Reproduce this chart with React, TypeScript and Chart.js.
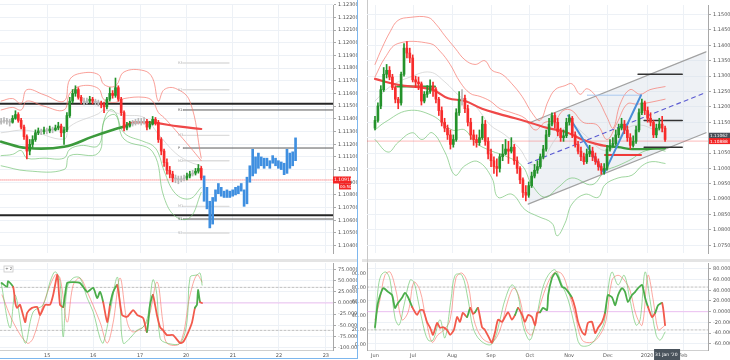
import React, { useEffect, useRef } from "react";
import { Chart, registerables } from "chart.js";
Chart.register(...registerables);

const FONT = "DejaVu Sans";
const GREEN = "#24922b";
const RED = "#f72c2c";
const GRAY = "#b8b8b8";
const GRID = "#edf1f6";
const BLUE_BAR = "#3f8fe0";
const BAND_RED = "rgba(246,120,110,0.7)";
const BAND_GREEN = "rgba(120,196,120,0.7)";
const BAND_MID = "rgba(205,205,205,0.7)";
const MA_GREEN = "#3b9a3b";
const MA_RED = "#ef4848";
const OSC_GREEN = "#4aad4a";
const OSC_RED = "#f25a4c";

type P = [number, number];

// ================= LEFT PANEL (hourly) =================
const leftDayLabels = ["15", "16", "17", "20", "21", "22", "23"];
const leftDayPos = [16.1, 32.2, 48.6, 64.7, 81.1, 97.2, 113.6];
const leftPriceTicks = [1.104, 1.105, 1.106, 1.107, 1.108, 1.109, 1.11, 1.111, 1.112, 1.113, 1.114, 1.115, 1.116, 1.117, 1.118, 1.119, 1.12, 1.121, 1.122, 1.123];
const leftOscTicks = [75, 50, 25, 0, -25, -50, -75, -100];

const leftOpen = [
  1.11373, 1.11381, 1.11388, 1.11381, 1.11373, 1.11404, 1.11434, 1.11388, 1.11335, 1.1126,
  1.11146, 1.11199, 1.11237, 1.1129, 1.11305, 1.11298, 1.11313, 1.11305, 1.1132, 1.11313,
  1.11328, 1.11343, 1.1129, 1.11313, 1.11426, 1.1154, 1.11601, 1.11631, 1.1157, 1.1154,
  1.11532, 1.1154, 1.11555, 1.1154, 1.11532, 1.11525, 1.1151, 1.11495, 1.11555, 1.11601,
  1.11585, 1.11646, 1.11555, 1.11449, 1.11328, 1.11343, 1.11358, 1.11366, 1.11373, 1.11381,
  1.11373, 1.11381, 1.11335, 1.11358, 1.11396, 1.11373, 1.11237, 1.11146, 1.11055, 1.10994,
  1.10964, 1.10934, 1.10926, 1.10919, 1.10926, 1.10934, 1.10949, 1.10964, 1.10972, 1.10987,
  1.11009,
];
const leftClose = [
  1.11381, 1.11388, 1.11381, 1.11373, 1.11404, 1.11434, 1.11388, 1.11335, 1.1126, 1.11146,
  1.11199, 1.11237, 1.1129, 1.11305, 1.11298, 1.11313, 1.11305, 1.1132, 1.11313, 1.11328,
  1.11343, 1.1129, 1.11313, 1.11426, 1.1154, 1.11601, 1.11631, 1.1157, 1.1154, 1.11532,
  1.1154, 1.11555, 1.1154, 1.11532, 1.11525, 1.1151, 1.11495, 1.11555, 1.11601, 1.11585,
  1.11646, 1.11555, 1.11449, 1.11328, 1.11343, 1.11358, 1.11366, 1.11373, 1.11381, 1.11373,
  1.11381, 1.11335, 1.11358, 1.11396, 1.11373, 1.11237, 1.11146, 1.11055, 1.10994, 1.10964,
  1.10934, 1.10926, 1.10919, 1.10926, 1.10934, 1.10949, 1.10964, 1.10972, 1.10987, 1.11009,
  1.10934,
];
const leftHigh = [
  1.11404, 1.11411, 1.11404, 1.11396, 1.11426, 1.11464, 1.11449, 1.11404, 1.11351, 1.11275,
  1.11237, 1.11267, 1.11313, 1.11328, 1.1132, 1.11335, 1.11328, 1.11343, 1.11335, 1.11351,
  1.11373, 1.11358, 1.11335, 1.11449, 1.1157, 1.11631, 1.11661, 1.11646, 1.11585, 1.11563,
  1.11563, 1.11578, 1.1157, 1.11555, 1.11548, 1.1154, 1.11532, 1.1157, 1.11646, 1.11623,
  1.11722, 1.11661, 1.1157, 1.11464, 1.11373, 1.11381, 1.11388, 1.11396, 1.11404, 1.11404,
  1.11411, 1.11396, 1.11381, 1.11419, 1.11411, 1.11388, 1.11252, 1.11161, 1.11085, 1.11025,
  1.10987, 1.10957, 1.10949, 1.10949, 1.10957, 1.10972, 1.10987, 1.10994, 1.11009, 1.1104,
  1.11025,
];
const leftLow = [
  1.11358, 1.11366, 1.11358, 1.11343, 1.11366, 1.11396, 1.11373, 1.1132, 1.11237, 1.11085,
  1.11116, 1.11176, 1.11222, 1.11275, 1.11275, 1.11282, 1.11282, 1.1129, 1.1129, 1.11305,
  1.11313, 1.1126, 1.11199, 1.11298, 1.11411, 1.11525, 1.11578, 1.11555, 1.11517, 1.1151,
  1.11517, 1.11525, 1.11517, 1.1151, 1.11502, 1.11487, 1.11449, 1.11479, 1.1154, 1.11563,
  1.1157, 1.1154, 1.11426, 1.11305, 1.11313, 1.11335, 1.11343, 1.11351, 1.11358, 1.11351,
  1.11358, 1.11313, 1.1132, 1.11351, 1.11351, 1.11214, 1.11116, 1.11025, 1.10964, 1.10934,
  1.10903, 1.10896, 1.10888, 1.10903, 1.10911, 1.10919, 1.10934, 1.10949, 1.10957, 1.10972,
  1.10919,
];
const leftProjStart = 71;
const leftProjHigh = [1.1095, 1.1086, 1.1075, 1.1078, 1.1084, 1.1089, 1.1086, 1.1083, 1.1084, 1.1083, 1.1084, 1.1086, 1.1087, 1.1089, 1.1084, 1.1094, 1.1103, 1.1116, 1.111, 1.1113, 1.111, 1.1109, 1.1109, 1.1107, 1.1111, 1.1109, 1.1107, 1.1106, 1.1105, 1.1116, 1.1113, 1.1114, 1.1125];
const leftProjLow = [1.1075, 1.1069, 1.1054, 1.1057, 1.1075, 1.1081, 1.1079, 1.1078, 1.1078, 1.1078, 1.1079, 1.108, 1.1081, 1.1083, 1.1071, 1.1073, 1.109, 1.1095, 1.1097, 1.1101, 1.1103, 1.1101, 1.1103, 1.1101, 1.1105, 1.1103, 1.1101, 1.11, 1.1096, 1.1097, 1.1101, 1.1103, 1.1107];

const leftUpperOuter: P[] = [[0, 1.1154], [4, 1.1156], [7, 1.1152], [9, 1.1163], [15, 1.1159], [22, 1.1154], [24, 1.1171], [28, 1.1176], [34, 1.1175], [36, 1.1167], [40, 1.1166], [43, 1.1177], [50, 1.1178], [53, 1.1172], [55, 1.1154], [57, 1.1163], [61, 1.1164], [66, 1.1154], [70, 1.1109]];
const leftUpperInner: P[] = [[0, 1.1147], [4, 1.1149], [7, 1.1147], [9, 1.1154], [15, 1.115], [22, 1.1147], [24, 1.116], [28, 1.1166], [34, 1.1164], [36, 1.1155], [40, 1.1153], [43, 1.1156], [50, 1.1157], [53, 1.1154], [55, 1.1145], [57, 1.1141], [61, 1.1131], [66, 1.1118], [70, 1.1107]];
const leftMid: P[] = [[0, 1.1129], [9, 1.1131], [22, 1.1124], [24, 1.1134], [34, 1.1144], [36, 1.1147], [43, 1.1143], [50, 1.1141], [55, 1.1128], [61, 1.1113], [66, 1.1106], [70, 1.1103]];
const leftLowerInner: P[] = [[0, 1.1111], [4, 1.1112], [7, 1.1115], [9, 1.1109], [15, 1.1109], [22, 1.1109], [24, 1.1116], [28, 1.1119], [34, 1.1119], [36, 1.1139], [38, 1.1147], [40, 1.1145], [43, 1.1129], [50, 1.1122], [53, 1.1119], [55, 1.1113], [57, 1.1099], [61, 1.1081], [66, 1.1077], [70, 1.1086]];
const leftLowerOuter: P[] = [[0, 1.1103], [9, 1.1099], [22, 1.11], [24, 1.1111], [34, 1.1113], [36, 1.1138], [40, 1.1143], [43, 1.1124], [53, 1.1114], [57, 1.1078], [61, 1.1063], [66, 1.1062], [70, 1.1082]];
const leftMaGreen: P[] = [[0, 1.1122], [9, 1.1117], [22, 1.1118], [32, 1.1126], [40, 1.1132], [43, 1.1134]];
const leftMaRed: P[] = [[43, 1.1134], [46, 1.1137], [53, 1.1137], [62, 1.1134], [70, 1.1132]];

const leftMajorLevels = [1.1152, 1.1064];
const leftPivotStart = 63.6;
const leftPivotShortEnd = 79.7;
const leftPivotDark = [1.1147, 1.1117, 1.1061];
const leftPivotDarkNames = ["R1", "P", "S1"];
const leftPivotLight = [1.1184, 1.1163, 1.1127, 1.1107, 1.1071, 1.105];
const leftPivotLightNames = ["R3", "R2", "M3", "M2", "M1", "S2"];
const leftLast = 1.10918;
const leftLastLabel = "1.10918";
const leftTimerLabel = "00:50";

const leftOscMain: P[] = [[0.2, 45], [2.1, 36], [2.4, 49], [4.2, 36], [4.9, 2], [5.6, -11], [6.6, -4], [8.4, -43], [9.1, -22], [10.8, -11], [12.6, -9], [13.6, -27], [15.4, -4], [17.1, -4], [18.2, 18], [19.6, 63], [19.9, 52], [20.6, -4], [21.7, -9], [23.1, 45], [25.2, 47], [27.6, 45], [30.1, 25], [32.2, 34], [33.6, 11], [34.6, 25], [35.7, 2], [37.1, -43], [38.1, -4], [39.2, 25], [40.6, 40], [42.3, -27], [44.1, -31], [46.2, -16], [47.6, -27], [49.7, -34], [51.0, -65], [52.1, -4], [53.1, 18], [54.5, -27], [55.6, -54], [56.6, -61], [58.0, -72], [60.1, -72], [62.6, -90], [63.6, -88], [65.0, -72], [66.8, -43], [67.8, -11], [68.5, -4], [68.9, 29], [69.6, 2], [70.3, 0]];
const leftOscMainTone = "ggggrrrrrrrrrrrrrrrggggggggrrggrrrrrrggrrrrrrrrrrgggr";
const leftOscFast: P[] = [[0, 45], [3.1, -56], [4.9, 18], [8.4, -90], [11.2, -20], [14.7, -4], [17.1, 47], [18.9, 70], [20.6, 47], [21.7, -76], [23.1, 34], [25.2, 56], [27.6, 56], [30.1, 11], [32.2, -20], [34.6, -79], [35.7, -90], [38.1, -20], [40.6, 58], [41.6, -4], [42.7, -90], [45.1, -79], [47.6, -61], [49.7, -54], [51.4, -27], [53.1, 52], [54.5, 18], [55.6, -79], [58, -90], [62.6, -90], [65, -43], [66.1, 58], [68.5, 63], [69.6, 67], [70.3, 40]];
const leftOscSlow: P[] = [[0.3, 18], [4.2, -43], [9.1, -90], [11.2, -79], [14.7, -4], [18.9, 63], [20.6, 56], [23.1, -43], [25.2, 40], [27.6, 56], [30.1, 25], [34.6, -43], [37.1, -90], [39.2, -43], [41.6, 56], [44.1, -43], [46.2, -65], [51, -43], [54.5, 47], [56.6, -43], [58, -90], [62.6, -90], [66.1, 18], [68.5, 63], [70.3, 47]];
const leftOscBands = [35, -61.5];

// ================= RIGHT PANEL (daily) =================
const rightMonthLabels = ["Jun", "Jul", "Aug", "Sep", "Oct", "Nov", "Dec", "2020", "Feb"];
const rightMonthPos = [0, 13.1, 26.6, 40, 53.4, 66.9, 80.3, 93.8, 106.2];
const rightPriceTicks = [1.075, 1.08, 1.085, 1.09, 1.095, 1.1, 1.105, 1.11, 1.115, 1.12, 1.125, 1.13, 1.135, 1.14, 1.145, 1.15];
const rightOscTicks = [80, 60, 40, 20, 0, -20, -40, -60];
const rightOscLeftTicks = [0, 20, 40, 60, 80, 100];

const rightOpen = [
  1.1131, 1.1156, 1.1203, 1.1256, 1.1306, 1.1319, 1.1297, 1.1263, 1.1225, 1.1213,
  1.1306, 1.1391, 1.1375, 1.1359, 1.1288, 1.1281, 1.1275, 1.1219, 1.1241, 1.125,
  1.1266, 1.1256, 1.1225, 1.1188, 1.115, 1.1131, 1.1109, 1.1078, 1.1094, 1.1181,
  1.1225, 1.1228, 1.1194, 1.115, 1.1109, 1.1094, 1.1084, 1.11, 1.1144, 1.1088,
  1.1047, 1.1025, 1.1006, 1.1, 1.1038, 1.1047, 1.1063, 1.1056, 1.1069, 1.1025,
  1.1, 1.0963, 1.0922, 1.0913, 1.0944, 1.0975, 1.0994, 1.1006, 1.1038, 1.1063,
  1.1109, 1.1144, 1.1172, 1.115, 1.1119, 1.11, 1.1106, 1.115, 1.1163, 1.1109,
  1.1078, 1.1056, 1.1038, 1.1022, 1.1047, 1.1056, 1.1038, 1.1022, 1.1006, 1.0994,
  1.1, 1.1063, 1.1075, 1.1081, 1.1109, 1.1131, 1.1144, 1.1125, 1.11, 1.1075,
  1.1088, 1.1125, 1.1181, 1.1213, 1.1188, 1.1163, 1.115, 1.1109, 1.1131, 1.1144,
  1.1131,
];
const rightClose = [
  1.1156, 1.1203, 1.1256, 1.1306, 1.1319, 1.1297, 1.1263, 1.1225, 1.1213, 1.1306,
  1.1391, 1.1375, 1.1359, 1.1288, 1.1281, 1.1275, 1.1219, 1.1241, 1.125, 1.1266,
  1.1256, 1.1225, 1.1188, 1.115, 1.1131, 1.1109, 1.1078, 1.1094, 1.1181, 1.1225,
  1.1228, 1.1194, 1.115, 1.1109, 1.1094, 1.1084, 1.11, 1.1144, 1.1088, 1.1047,
  1.1025, 1.1006, 1.1, 1.1038, 1.1047, 1.1063, 1.1056, 1.1069, 1.1025, 1.1,
  1.0963, 1.0922, 1.0913, 1.0944, 1.0975, 1.0994, 1.1006, 1.1038, 1.1063, 1.1109,
  1.1144, 1.1172, 1.115, 1.1119, 1.11, 1.1106, 1.115, 1.1163, 1.1109, 1.1078,
  1.1056, 1.1038, 1.1022, 1.1047, 1.1056, 1.1038, 1.1022, 1.1006, 1.0994, 1.1,
  1.1063, 1.1075, 1.1081, 1.1109, 1.1131, 1.1144, 1.1125, 1.11, 1.1075, 1.1088,
  1.1125, 1.1181, 1.1213, 1.1188, 1.1163, 1.115, 1.1109, 1.1131, 1.1144, 1.1131,
  1.1094,
];
const rightHigh = [
  1.1169, 1.1213, 1.1269, 1.1328, 1.1338, 1.1331, 1.1306, 1.1269, 1.1231, 1.1313,
  1.1406, 1.1412, 1.1391, 1.1369, 1.13, 1.1297, 1.1281, 1.125, 1.1269, 1.1288,
  1.1281, 1.1263, 1.1231, 1.12, 1.1163, 1.1141, 1.1125, 1.1109, 1.1194, 1.125,
  1.1256, 1.1238, 1.1206, 1.1163, 1.1125, 1.1109, 1.1125, 1.1169, 1.1156, 1.11,
  1.1063, 1.1038, 1.1031, 1.1047, 1.1078, 1.1094, 1.1088, 1.11, 1.1078, 1.1038,
  1.1006, 1.0969, 1.0944, 1.0956, 1.0988, 1.1013, 1.1025, 1.1047, 1.1075, 1.1125,
  1.1163, 1.1181, 1.1181, 1.1163, 1.1131, 1.1125, 1.1163, 1.1175, 1.1169, 1.1119,
  1.1088, 1.1069, 1.105, 1.1063, 1.1075, 1.1069, 1.105, 1.1031, 1.1016, 1.1016,
  1.1075, 1.1094, 1.11, 1.1125, 1.1144, 1.1163, 1.1156, 1.1138, 1.1113, 1.1106,
  1.1138, 1.1194, 1.1225, 1.1219, 1.12, 1.1181, 1.1156, 1.1144, 1.1163, 1.1169,
  1.1138,
];
const rightLow = [
  1.1125, 1.115, 1.1194, 1.125, 1.1294, 1.1288, 1.1256, 1.1213, 1.1194, 1.1206,
  1.13, 1.1359, 1.1344, 1.1281, 1.1263, 1.1256, 1.1206, 1.1213, 1.1231, 1.1244,
  1.1234, 1.1213, 1.1172, 1.1138, 1.1119, 1.1094, 1.1063, 1.1069, 1.1088, 1.1172,
  1.1206, 1.1181, 1.1138, 1.1094, 1.1075, 1.1069, 1.1075, 1.1094, 1.1075, 1.1031,
  1.1006, 1.0984, 1.0975, 1.0988, 1.1025, 1.1044, 1.1016, 1.105, 1.1013, 1.0984,
  1.095, 1.0906, 1.0894, 1.0906, 1.0938, 1.0969, 1.0984, 1.1, 1.1031, 1.1056,
  1.1103, 1.1138, 1.1131, 1.1106, 1.1088, 1.1088, 1.11, 1.1141, 1.11, 1.1069,
  1.1047, 1.1025, 1.1013, 1.1016, 1.1038, 1.1025, 1.1013, 1.0994, 1.0981, 1.0981,
  1.0994, 1.1056, 1.1069, 1.1075, 1.11, 1.1125, 1.1113, 1.1088, 1.1063, 1.1069,
  1.1081, 1.1119, 1.1175, 1.1175, 1.115, 1.1138, 1.11, 1.11, 1.1125, 1.1119,
  1.1088,
];

const rightUpperOuter: P[] = [[0, 1.1338], [2.4, 1.1391], [5.2, 1.1444], [7.9, 1.1481], [12.1, 1.1491], [18.3, 1.1491], [21, 1.1469], [24.1, 1.1431], [27.6, 1.1391], [31, 1.1353], [34.5, 1.1338], [37.9, 1.135], [40.3, 1.1319], [43.8, 1.1306], [47.2, 1.1275], [50.7, 1.1234], [54.1, 1.1181], [56.9, 1.1156], [59.7, 1.1219], [62.1, 1.1256], [65.5, 1.1269], [67.9, 1.1275], [70.7, 1.1241], [73.1, 1.1259], [76.6, 1.1228], [80, 1.1166], [82.1, 1.1131], [84.5, 1.1209], [87.9, 1.1256], [91.4, 1.1241], [94.8, 1.1256], [100, 1.1266]];
const rightUpperInner: P[] = [[0, 1.1297], [3.4, 1.1359], [7.9, 1.1406], [19, 1.1406], [22.4, 1.1381], [25.9, 1.1338], [29.3, 1.1281], [32.8, 1.1244], [36.2, 1.1234], [39.7, 1.1219], [43.1, 1.1194], [47.2, 1.1181], [51.7, 1.1163], [55.2, 1.1125], [58.6, 1.115], [62.1, 1.1156], [64.8, 1.1188], [67.9, 1.1188], [71.7, 1.115], [76.6, 1.1141], [80, 1.1094], [83.4, 1.1147], [86.9, 1.1209], [90.3, 1.1209], [93.8, 1.1213], [100, 1.1225]];
const rightMid: P[] = [[0, 1.1219], [5.2, 1.1266], [12.1, 1.1297], [19, 1.1313], [24.1, 1.1281], [29.3, 1.1234], [34.5, 1.1203], [39.7, 1.1141], [44.8, 1.1109], [50, 1.1063], [53.4, 1.1016], [56.9, 1.1016], [62.1, 1.1094], [67.2, 1.1141], [72.4, 1.1109], [77.6, 1.1063], [81.7, 1.1063], [86.2, 1.1125], [91.4, 1.1141], [96.6, 1.1125], [100, 1.1119]];
const rightLowerInner: P[] = [[0, 1.1125], [3.4, 1.115], [11.4, 1.1188], [19.7, 1.1172], [26.6, 1.1125], [31, 1.1125], [34.5, 1.1084], [40.3, 1.1056], [44.8, 1.1041], [50.7, 1.1009], [54.1, 1.0947], [58.6, 1.0906], [63.1, 1.0938], [67.9, 1.0969], [74.8, 1.0947], [79.3, 1.0991], [83.8, 1.1009], [88.6, 1.1031], [92.1, 1.1053], [96.6, 1.1063], [100, 1.1056]];
const rightLowerOuter: P[] = [[0, 1.1094], [4.5, 1.1053], [7.9, 1.1084], [12.8, 1.1116], [16.2, 1.1094], [19.7, 1.1116], [24.1, 1.1053], [27.6, 1.0978], [31, 1.1009], [35.5, 1.1022], [40.3, 1.0969], [42.4, 1.0906], [47.2, 1.0916], [51.7, 1.0866], [56.2, 1.0844], [61, 1.0822], [62.8, 1.0781], [65.5, 1.0822], [67.9, 1.0884], [72.4, 1.0916], [76.9, 1.0906], [79.3, 1.0947], [83.8, 1.0969], [88.6, 1.0978], [92.1, 1.1009], [95.5, 1.1022], [100, 1.1016]];
const rightMaRed: P[] = [[0, 1.1291], [7.9, 1.1272], [19.7, 1.1256], [25.2, 1.1228], [31, 1.1219], [36.9, 1.1194], [42.4, 1.1178], [48.3, 1.1163], [54.1, 1.1147], [59.7, 1.1131], [65.5, 1.1119], [71.4, 1.1094], [76.9, 1.1078], [80, 1.1072]];
const rightMaGreen: P[] = [[80, 1.1072], [83.8, 1.1069], [88.6, 1.1063], [94.1, 1.1063], [100, 1.1066]];
const rightMaGreenFlat: P[] = [[7.6, 1.1266], [20.7, 1.1266]];
const rightChannelUpper: P[] = [[52.8, 1.1147], [114.1, 1.1379]];
const rightChannelLower: P[] = [[52.8, 1.0884], [114.1, 1.1116]];
const rightChannelMid: P[] = [[52.8, 1.1016], [114.1, 1.1247]];
const rightZigzag: P[] = [[66.6, 1.1172], [79, 1.0984], [91.7, 1.1238]];
const rightFibLine: P[] = [[73.1, 1.1238], [91.7, 1.1238]];
const rightRedLevel: P[] = [[79.3, 1.1044], [91.7, 1.1044]];
const rightLevels = [1.1306, 1.1156, 1.1069];
const rightLevelStart = [90.7, 92.8, 92.8];
const rightLevelEnd = 105.9;
const rightLast = 1.10888;
const rightLastLabel = "1.10888";
const rightBid = 1.11062;
const rightBidLabel = "1.11062";
const rightLastIndex = 100;
const rightDateLabel = "31 Jan '20";

const rightOscMain: P[] = [[0, -29], [1, 16], [2.8, 44], [4.5, 37], [5.9, 31], [6.9, 7], [7.9, 16], [9.3, 26], [10.3, 35], [11.4, 27], [12.8, 9], [13.8, -1], [14.5, -6], [15.5, 3], [16.6, 3], [17.9, -19], [19, -30], [20, -43], [21.4, -21], [22.4, -30], [23.4, -29], [24.8, -34], [25.9, -43], [27.2, -34], [28.3, -10], [29.3, -19], [30.3, -2], [31.7, -10], [32.8, 7], [33.8, -4], [34.5, -1], [35.5, 7], [36.9, -29], [37.9, -34], [39.7, -53], [40.3, -58], [41.4, -38], [42.4, -15], [43.8, -19], [44.8, -10], [45.9, -1], [47.2, -15], [48.3, -6], [49.3, 7], [50.7, -6], [51.7, -19], [52.8, -6], [54.1, -10], [55.2, -25], [55.9, -2], [56.9, -1], [57.9, 7], [59.3, 3], [59.7, 31], [61, 63], [62.1, 72], [63.1, 65], [64.5, 46], [65.5, 44], [66.6, 37], [67.9, 26], [69, 7], [70, -19], [71.4, -38], [72.4, -43], [73.4, -21], [74.8, -19], [75.9, -40], [76.9, -30], [78.3, -19], [79.3, -2], [80.3, 31], [81.7, 27], [82.8, 12], [83.8, 31], [85.2, 44], [86.2, 37], [87.2, 18], [88.6, 31], [89.7, 37], [90.7, 44], [92.1, 50], [93.1, 26], [94.1, 9], [95.5, -10], [96.6, -2], [97.6, 12], [99, 16], [100, -25]];
const rightOscMainTone = "rggggggggggrrrrrrrrrrrrrrrrrgrrgrrrrrrrrrrrgrrrrrrrggggggggggrrrrrrrrrrgggggggggggggrrggr";
const rightOscFast: P[] = [[0, -34], [1, 40], [2.1, 68], [3.8, 74], [5.2, 59], [6.9, -12], [8.3, -25], [10, 12], [12.1, 59], [13.4, 55], [14.8, 22], [16.6, -25], [18.3, -53], [20, -53], [22.4, -15], [24.1, -49], [26.2, 22], [27.6, 68], [30, 68], [32.1, 22], [33.8, -30], [36.2, -53], [39.7, -62], [41.4, -49], [43.1, -15], [44.8, 22], [47.2, 50], [49.3, 31], [51, -25], [53.4, -53], [55.5, -15], [57.6, 40], [59.7, 68], [62.1, 78], [64.5, 50], [66.6, 22], [69, -30], [70.7, -62], [74.1, -62], [76.9, -43], [79, -19], [80.3, 40], [81.7, 74], [83.8, 50], [85.9, 68], [87.9, 22], [90, -25], [91.4, -15], [93.1, 74], [94.8, 22], [96.9, -43], [98.3, -53], [100, -38]];
const rightOscSlow: P[] = [[0, -15], [1.7, 22], [3.4, 68], [5.2, 74], [7.2, 40], [9.3, -15], [11.4, -1], [13.4, 55], [15.5, 40], [17.6, -15], [19.7, -57], [21.7, -43], [23.8, -34], [25.9, -15], [27.9, 63], [30, 72], [32.1, 50], [34.1, -15], [36.9, -49], [40.3, -57], [43.1, -34], [45.9, 22], [47.9, 44], [50, 22], [52.1, -34], [54.1, -43], [56.9, 12], [59.7, 55], [62.1, 74], [64.5, 70], [66.6, 40], [69, -6], [71.4, -53], [74.8, -57], [77.6, -43], [79.7, -15], [81.7, 59], [83.8, 68], [85.9, 59], [87.9, 40], [90, -6], [92.1, -25], [94.1, 68], [95.9, 22], [97.6, -34], [99, -30], [100, -25]];
const rightOscBands = [46, -34];

// ================= helpers =================
const LX = [-0.4, 116.1];
const RX = [-2.76, 114.8];

const pts = (a: P[]) => a.map(([x, y]) => ({ x, y }));
const seg = (v: number, x0: number, x1: number) => [{ x: x0, y: v }, { x: x1, y: v }];

function line(data: any[], color: string, width: number, extra: any = {}) {
  return { type: "line", data, borderColor: color, borderWidth: width, pointRadius: 0, fill: false, tension: 0, order: 5, ...extra };
}

function candles(o: number[], h: number[], l: number[], c: number[], tol: number) {
  const col = c.map((v, i) => (Math.abs(v - o[i]) < tol ? GRAY : v > o[i] ? GREEN : RED));
  return [
    { type: "bar", data: c.map((v, i) => ({ x: i, y: [o[i], v] })), backgroundColor: col, barThickness: 2, minBarLength: 1, grouped: false, order: 0 },
    { type: "bar", data: h.map((v, i) => ({ x: i, y: [l[i], v] })), backgroundColor: col, barThickness: 1, grouped: false, order: 1 },
  ];
}

function xScale(range: number[], pos: number[], labels: string[], show: boolean) {
  return {
    type: "linear",
    min: range[0],
    max: range[1],
    offset: false,
    afterBuildTicks: (s: any) => { s.ticks = pos.map((v) => ({ value: v })); },
    ticks: { display: show, autoSkip: false, maxRotation: 0, font: { size: 5, family: FONT }, color: "#555", padding: 3, callback: (_v: any, i: number) => labels[i] },
    grid: { color: GRID, drawTicks: false, offset: false },
    border: { display: show, color: "#cfcfcf" },
    afterFit: (s: any) => { s.height = show ? 10 : 0; },
  };
}

function yScale(min: number, max: number, ticks: number[], position: string, width: number, digits: number, grid = true) {
  return {
    type: "linear",
    position,
    min,
    max,
    afterBuildTicks: (s: any) => { s.ticks = ticks.map((v) => ({ value: v })); },
    ticks: { autoSkip: false, font: { size: 5, family: FONT }, color: "#555", padding: grid ? 2 : 1, callback: (v: any) => Number(v).toFixed(digits) },
    grid: { display: true, drawOnChartArea: grid, drawTicks: grid, color: GRID, tickLength: 3, tickColor: "#aaa" },
    border: { color: "#a8a8a8" },
    afterFit: (s: any) => { s.width = width; },
  };
}

const baseOptions = (scales: any, padding: any) => ({
  responsive: false,
  maintainAspectRatio: false,
  animation: false,
  events: [],
  layout: { padding },
  plugins: { legend: { display: false }, tooltip: { enabled: false } },
  elements: { point: { radius: 0 }, line: { borderJoinStyle: "round", borderCapStyle: "round" } },
  scales,
});

function box(ctx: any, x: number, y: number, w: number, h: number, bg: string, text: string, size = 4.5) {
  ctx.fillStyle = bg;
  ctx.fillRect(x, y, w, h);
  ctx.fillStyle = "#fff";
  ctx.font = `${size}px "${FONT}"`;
  ctx.textBaseline = "middle";
  ctx.textAlign = "left";
  ctx.fillText(text, x + 1, y + h / 2 + 0.3);
}

// ================= chart configs =================
function leftMainConfig() {
  const datasets: any[] = [
    ...candles(leftOpen, leftHigh, leftLow, leftClose, 0.0001),
    { type: "bar", data: leftProjHigh.map((v, i) => ({ x: leftProjStart + i, y: [leftProjLow[i], v] })), backgroundColor: BLUE_BAR, barThickness: 2, minBarLength: 1, grouped: false, order: 0 },
    line(pts(leftMaGreen), MA_GREEN, 2.6, { tension: 0.4, order: 3 }),
    line(pts(leftMaRed), MA_RED, 2.2, { tension: 0.4, order: 3 }),
    line(pts(leftUpperOuter), BAND_RED, 1, { tension: 0.4, order: 6 }),
    line(pts(leftUpperInner), BAND_RED, 1, { tension: 0.4, order: 6 }),
    line(pts(leftMid), BAND_MID, 1, { tension: 0.4, order: 6 }),
    line(pts(leftLowerInner), BAND_GREEN, 1, { tension: 0.4, order: 6 }),
    line(pts(leftLowerOuter), BAND_GREEN, 1, { tension: 0.4, order: 6 }),
    ...leftMajorLevels.map((v) => line(seg(v, LX[0], LX[1]), "#262626", 2, { order: 7 })),
    ...leftPivotDark.map((v) => line(seg(v, leftPivotStart, LX[1]), "#5a5a5a", 1, { order: 7 })),
    ...leftPivotLight.map((v) => line(seg(v, leftPivotStart, leftPivotShortEnd), "#dddddd", 1.4, { order: 7 })),
    line(seg(leftLast, LX[0], LX[1]), "rgba(250,90,90,0.75)", 0.8, { borderDash: [1, 1], order: 8 }),
  ];
  return {
    type: "bar",
    data: { datasets },
    options: baseOptions({ x: xScale(LX, leftDayPos, leftDayLabels, false), y: yScale(1.10342, 1.12298, leftPriceTicks, "right", 24, 5) }, 0),
    plugins: [{
      id: "lmOverlay",
      afterDraw(chart: any) {
        const { ctx, scales } = chart;
        const x = scales.x, y = scales.y;
        ctx.save();
        ctx.font = `3.5px "${FONT}"`;
        ctx.fillStyle = "#9a9a9a";
        ctx.textBaseline = "middle";
        const lx = x.getPixelForValue(leftPivotStart) - 5;
        leftPivotDark.forEach((v, i) => { ctx.fillStyle = "#555"; ctx.fillText(leftPivotDarkNames[i], lx, y.getPixelForValue(v)); });
        leftPivotLight.forEach((v, i) => { ctx.fillStyle = "#b0b0b0"; ctx.fillText(leftPivotLightNames[i], lx, y.getPixelForValue(v)); });
        const py = y.getPixelForValue(leftLast);
        box(ctx, y.left, py - 3.5, 18, 7, "#f42424", leftLastLabel);
        box(ctx, y.left + 6, py + 3.5, 12, 6, "#f42424", leftTimerLabel, 4);
        ctx.restore();
      },
    }],
  };
}

function leftOscConfig() {
  const datasets: any[] = [
    line(pts(leftOscMain), OSC_RED, 1.8, { tension: 0.2, order: 1, segment: { borderColor: (c: any) => (leftOscMainTone[c.p1DataIndex] === "g" ? OSC_GREEN : OSC_RED) } }),
    line(pts(leftOscFast), "rgba(110,200,110,0.75)", 0.9, { tension: 0.35, order: 2 }),
    line(pts(leftOscSlow), "rgba(250,125,115,0.75)", 0.9, { tension: 0.35, order: 3 }),
    ...leftOscBands.map((v) => line(seg(v, LX[0], LX[1]), "#a5a5a5", 0.7, { borderDash: [2, 2], order: 6 })),
    line(seg(0, LX[0], LX[1]), "rgba(236,150,236,0.55)", 1, { order: 7 }),
  ];
  return {
    type: "line",
    data: { datasets },
    options: baseOptions({ x: xScale(LX, leftDayPos, leftDayLabels, true), y: yScale(-105.5, 89.7, leftOscTicks, "right", 24, 5) }, { top: 5 }),
    plugins: [{
      id: "loOverlay",
      afterDraw(chart: any) {
        const { ctx } = chart;
        ctx.save();
        ctx.strokeStyle = "#c8c8c8";
        ctx.lineWidth = 0.8;
        ctx.fillStyle = "#fff";
        ctx.fillRect(4, 8, 9, 6);
        ctx.strokeRect(4, 8, 9, 6);
        ctx.fillStyle = "#666";
        ctx.font = `4px "${FONT}"`;
        ctx.textBaseline = "middle";
        ctx.fillText("+ 2", 5.2, 11.2);
        ctx.restore();
      },
    }],
  };
}

function rightMainConfig() {
  const datasets: any[] = [
    ...candles(rightOpen, rightHigh, rightLow, rightClose, 0.0004),
    line(pts(rightMaRed), MA_RED, 2.2, { tension: 0.4, order: 3 }),
    line(pts(rightMaGreen), MA_GREEN, 2.2, { tension: 0.4, order: 3 }),
    line(pts(rightMaGreenFlat), MA_GREEN, 2, { order: 3 }),
    line(pts(rightUpperOuter), BAND_RED, 1, { tension: 0.4, order: 6 }),
    line(pts(rightUpperInner), BAND_RED, 1, { tension: 0.4, order: 6 }),
    line(pts(rightMid), BAND_MID, 1, { tension: 0.4, order: 6 }),
    line(pts(rightLowerInner), BAND_GREEN, 1, { tension: 0.4, order: 6 }),
    line(pts(rightLowerOuter), BAND_GREEN, 1, { tension: 0.4, order: 6 }),
    line(pts(rightChannelLower), "#a2a2a2", 1.2, { order: 10 }),
    line(pts(rightChannelUpper), "#a2a2a2", 1.2, { order: 10, fill: "-1", backgroundColor: "rgba(214,221,232,0.42)" }),
    line(pts(rightChannelMid), "#5b5bd2", 1.1, { borderDash: [4, 4], order: 4 }),
    line(pts(rightZigzag), "#4b8ed8", 2, { order: 2 }),
    line(pts(rightFibLine), "#a9c9f0", 1, { order: 4 }),
    line(pts(rightRedLevel), "#f03a3a", 2, { order: 2 }),
    ...rightLevels.map((v, i) => line(seg(v, rightLevelStart[i], rightLevelEnd), "#333", 1.6, { order: 2 })),
    line(seg(rightLast, RX[0], RX[1]), "rgba(250,110,110,0.6)", 0.8, { order: 9 }),
  ];
  return {
    type: "bar",
    data: { datasets },
    options: baseOptions({ x: xScale(RX, rightMonthPos, rightMonthLabels, false), y: yScale(1.0725, 1.153125, rightPriceTicks, "right", 22, 5) }, { left: 15 }),
    plugins: [{
      id: "rmOverlay",
      afterDraw(chart: any) {
        const { ctx, scales } = chart;
        const y = scales.y;
        ctx.save();
        const pb = y.getPixelForValue(rightBid);
        box(ctx, y.left + 1, pb - 3, 21, 6, "#4a5058", rightBidLabel, 4.3);
        const pl = y.getPixelForValue(rightLast);
        box(ctx, y.left + 1, pl - 3, 21, 6, "#f42424", rightLastLabel, 4.3);
        ctx.restore();
      },
    }],
  };
}

function rightOscConfig() {
  const datasets: any[] = [
    line(pts(rightOscMain), OSC_RED, 1.8, { tension: 0.2, order: 1, segment: { borderColor: (c: any) => (rightOscMainTone[c.p1DataIndex] === "g" ? OSC_GREEN : OSC_RED) } }),
    line(pts(rightOscFast), "rgba(110,200,110,0.75)", 0.9, { tension: 0.35, order: 2 }),
    line(pts(rightOscSlow), "rgba(250,125,115,0.75)", 0.9, { tension: 0.35, order: 3 }),
    ...rightOscBands.map((v) => line(seg(v, RX[0], RX[1]), "#a5a5a5", 0.7, { borderDash: [2, 2], order: 6 })),
    line(seg(0, RX[0], RX[1]), "rgba(236,150,236,0.55)", 1, { order: 7 }),
  ];
  return {
    type: "line",
    data: { datasets },
    options: baseOptions({
      x: xScale(RX, rightMonthPos, rightMonthLabels, true),
      y: yScale(-71.5, 90.9, rightOscTicks, "right", 22, 5),
      y2: yScale(-8, 114.5, rightOscLeftTicks, "left", 15, 2, false),
    }, { top: 5 }),
    plugins: [{
      id: "roOverlay",
      afterDraw(chart: any) {
        const { ctx, scales } = chart;
        const px = scales.x.getPixelForValue(rightLastIndex) + 2;
        ctx.save();
        box(ctx, px - 13, 91, 26, 11, "#4a535c", rightDateLabel, 4.5);
        ctx.restore();
      },
    }],
  };
}

function ChartBox({ x, y, w, h, make }: { x: number; y: number; w: number; h: number; make: () => any }) {
  const ref = useRef<HTMLCanvasElement>(null);
  useEffect(() => {
    const chart = new Chart(ref.current as HTMLCanvasElement, make());
    return () => chart.destroy();
  }, []);
  return (
    <div style={{ position: "absolute", left: x, top: y, width: w, height: h }}>
      <canvas ref={ref} width={w} height={h} style={{ width: w, height: h, display: "block" }} />
    </div>
  );
}

export default function App() {
  return (
    <div style={{ position: "absolute", left: 0, top: 0, width: 730, height: 360, background: "#fff", overflow: "hidden", fontFamily: FONT }}>
      <div style={{ position: "absolute", left: 0, top: 259, width: 357, height: 3, background: "#e4e4e4" }} />
      <div style={{ position: "absolute", left: 362, top: 259, width: 368, height: 3, background: "#e4e4e4" }} />
      <div style={{ position: "absolute", left: 366.5, top: 0, width: 1, height: 350, background: "#c9c9c9" }} />
      <ChartBox x={0} y={0} w={357} h={258} make={leftMainConfig} />
      <ChartBox x={0} y={258} w={357} h={102} make={leftOscConfig} />
      <ChartBox x={352} y={0} w={378} h={258} make={rightMainConfig} />
      <ChartBox x={352} y={258} w={378} h={102} make={rightOscConfig} />
      <div style={{ position: "absolute", left: 0, top: 0, width: 357, height: 358, borderRight: "1.5px solid #7db7ee", borderBottom: "1.5px solid #7db7ee", zIndex: 10, pointerEvents: "none" }} />
    </div>
  );
}
